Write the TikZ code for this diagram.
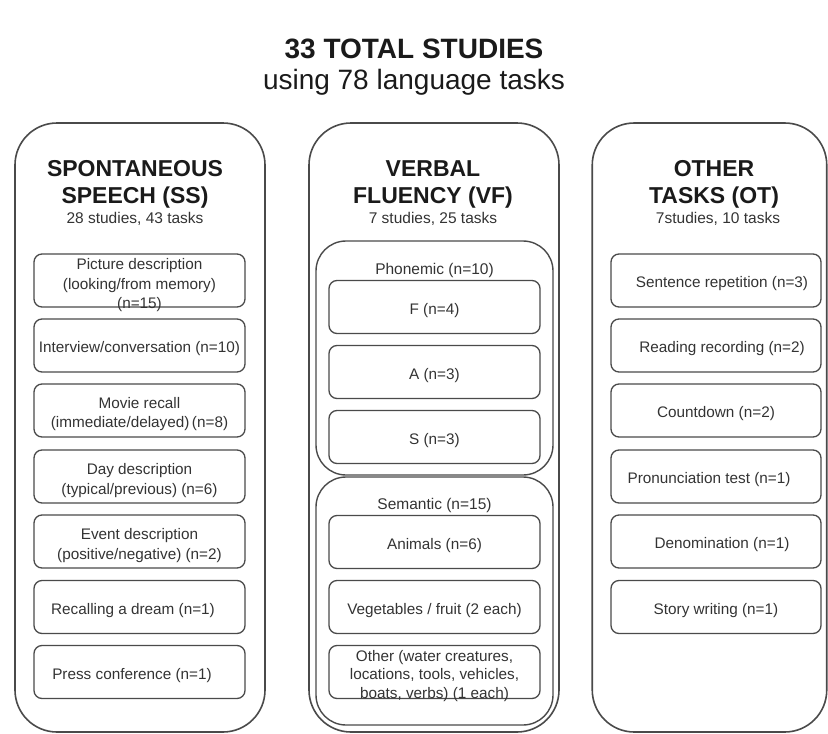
\documentclass[tikz,border=0pt]{standalone}
\usepackage{fontspec}
\setmainfont{Liberation Sans}
\definecolor{boxgray}{HTML}{4A4A4A}
\definecolor{txtdark}{HTML}{1A1A1A}
\definecolor{txtgray}{HTML}{333333}
\tikzset{
  outerbox/.style={draw=boxgray, line width=1.6pt, rounded corners=42pt, minimum width=250pt, minimum height=609pt, inner sep=0pt},
  groupbox/.style={draw=boxgray, line width=1.4pt, rounded corners=30pt, minimum width=237pt, inner sep=0pt},
  taskbox/.style={draw=boxgray, line width=1.3pt, rounded corners=8pt, minimum width=211pt, minimum height=53pt, inner sep=0pt},
  tasktext/.style={align=center, text=txtgray, inner sep=0pt, font=\fontsize{15.3}{19.5}\selectfont},
  headtext/.style={align=center, text=txtdark, inner sep=0pt, font=\fontsize{23}{27}\selectfont\bfseries},
  subtext/.style={align=center, text=txtgray, inner sep=0pt, font=\fontsize{15.5}{18}\selectfont},
  grouptext/.style={align=center, text=txtgray, inner sep=0pt, font=\fontsize{15.5}{18}\selectfont},
  titletext/.style={align=center, text=txtdark, inner sep=0pt, font=\fontsize{28}{32}\selectfont},
}
\begin{document}
\begin{tikzpicture}[x=1pt, y=-1pt]
\useasboundingbox (0,0) rectangle (828,734);
% title
\node[titletext, font=\fontsize{28}{32}\selectfont\bfseries] (title) at (414,49) {33 TOTAL STUDIES};
\node[titletext] (subtitle) at (414,82) {using 78 language tasks};
% outer boxes
\node[outerbox] (ss) at (140,427.5) {};
\node[outerbox] (vf) at (434,427.5) {};
\node[outerbox, minimum width=234.5pt] (ot) at (709.5,427.5) {};
% headers
\node[headtext] (sshead) at (135,184.5) {SPONTANEOUS\\SPEECH (SS)};
\node[subtext] (sssub) at (135,219) {28 studies, 43 tasks};
\node[headtext] (vfhead) at (433,184.5) {VERBAL\\FLUENCY (VF)};
\node[subtext] (vfsub) at (433,219) {7 studies, 25 tasks};
\node[headtext] (othead) at (714,184.5) {OTHER\\TASKS (OT)};
\node[subtext] (otsub) at (718,219) {7studies, 10 tasks};
% spontaneous speech tasks
\node[taskbox] (ss1) at (139.5,280.5) {};
\node[tasktext] (ss1t) at (139.5,285.5) {Picture description\\(looking/from memory)\\(n=15)};
\node[taskbox] (ss2) at (139.5,345.5) {};
\node[tasktext] (ss2t) at (139.5,349) {Interview/conversation (n=10)};
\node[taskbox] (ss3) at (139.5,410.5) {};
\node[tasktext] (ss3t) at (139.5,414) {Movie recall\\(immediate/delayed)\,(n=8)};
\node[taskbox] (ss4) at (139.5,476.5) {};
\node[tasktext] (ss4t) at (139.5,480.5) {Day description\\(typical/previous) (n=6)};
\node[taskbox] (ss5) at (139.5,541.5) {};
\node[tasktext] (ss5t) at (139.5,545.5) {Event description\\(positive/negative) (n=2)};
\node[taskbox] (ss6) at (139.5,607) {};
\node[tasktext] (ss6t) at (133,610.5) {Recalling a dream (n=1)};
\node[taskbox] (ss7) at (139.5,672) {};
\node[tasktext] (ss7t) at (132,675.5) {Press conference (n=1)};
% verbal fluency
\node[groupbox, minimum height=234pt] (phon) at (434.5,358) {};
\node[grouptext] (phonlab) at (434.5,270) {Phonemic (n=10)};
\node[taskbox] (vf1) at (434.5,307) {};
\node[tasktext] (vf1t) at (434.5,310.5) {F (n=4)};
\node[taskbox] (vf2) at (434.5,372) {};
\node[tasktext] (vf2t) at (434.5,375.5) {A (n=3)};
\node[taskbox] (vf3) at (434.5,437) {};
\node[tasktext] (vf3t) at (434.5,440.5) {S (n=3)};
\node[groupbox, minimum height=248pt] (sem) at (434.5,601) {};
\node[grouptext] (semlab) at (434.5,505) {Semantic (n=15)};
\node[taskbox] (vf4) at (434.5,542) {};
\node[tasktext] (vf4t) at (434.5,545.5) {Animals (n=6)};
\node[taskbox] (vf5) at (434.5,607) {};
\node[tasktext] (vf5t) at (434.5,610.5) {Vegetables / fruit (2 each)};
\node[taskbox] (vf6) at (434.5,672) {};
\node[tasktext, font=\fontsize{15.3}{18.5}\selectfont] (vf6t) at (434.5,676) {Other (water creatures,\\locations, tools, vehicles,\\boats, verbs) (1 each)};
% other tasks
\node[taskbox, minimum width=210pt] (ot1) at (716,280.5) {};
\node[tasktext] (ot1t) at (722,284) {Sentence repetition (n=3)};
\node[taskbox, minimum width=210pt] (ot2) at (716,345.5) {};
\node[tasktext] (ot2t) at (722,349) {Reading recording (n=2)};
\node[taskbox, minimum width=210pt] (ot3) at (716,410.5) {};
\node[tasktext] (ot3t) at (716,414) {Countdown (n=2)};
\node[taskbox, minimum width=210pt] (ot4) at (716,476.5) {};
\node[tasktext] (ot4t) at (709,480) {Pronunciation test (n=1)};
\node[taskbox, minimum width=210pt] (ot5) at (716,541.5) {};
\node[tasktext] (ot5t) at (722,545) {Denomination (n=1)};
\node[taskbox, minimum width=210pt] (ot6) at (716,607) {};
\node[tasktext] (ot6t) at (716,610.5) {Story writing (n=1)};
\end{tikzpicture}
\end{document}
